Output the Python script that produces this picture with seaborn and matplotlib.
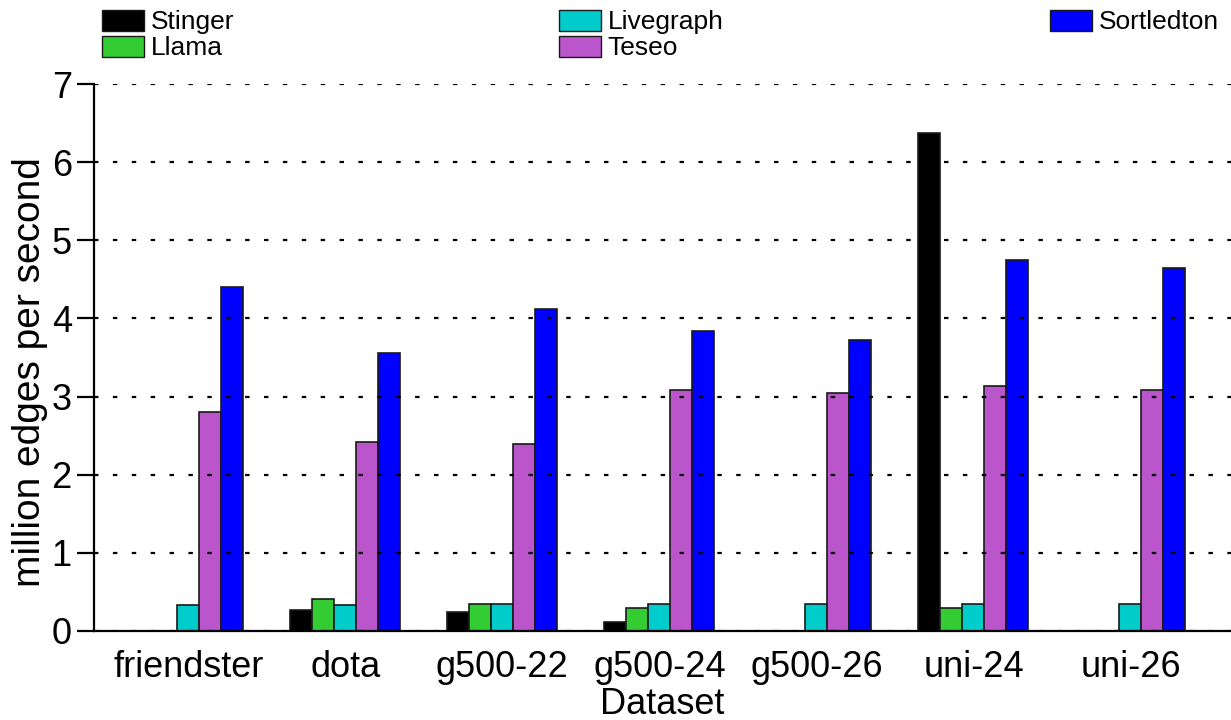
import matplotlib
matplotlib.use("Agg")
import matplotlib.pyplot as plt
import seaborn as sns
import pandas as pd
from matplotlib.patches import Patch

datasets = ["friendster", "dota", "g500-22", "g500-24", "g500-26", "uni-24", "uni-26"]
systems = ["Stinger", "Llama", "Livegraph", "Teseo", "Sortledton"]

stinger = [0.0, 0.27, 0.24, 0.11, 0.0, 6.37, 0.0]
llama = [0.0, 0.41, 0.35, 0.29, 0.0, 0.29, 0.0]
livegraph = [0.33, 0.33, 0.34, 0.34, 0.34, 0.34, 0.34]
teseo = [2.80, 2.42, 2.39, 3.09, 3.05, 3.13, 3.09]
sortledton = [4.40, 3.56, 4.12, 3.84, 3.72, 4.75, 4.65]

colors = ["#000000", "#33cc33", "#00cccc", "#bb55cc", "#0000ff"]

series = [stinger, llama, livegraph, teseo, sortledton]
df = pd.DataFrame(
    [(d, s, v) for s, vals in zip(systems, series) for d, v in zip(datasets, vals)],
    columns=["Dataset", "System", "Throughput"],
)

sns.set_theme(style="white")
plt.rcParams["font.family"] = ["Liberation Sans", "DejaVu Sans"]
plt.rcParams.update({"text.color": "black", "axes.labelcolor": "black",
                     "xtick.color": "black", "ytick.color": "black"})

fig = plt.figure(figsize=(12.31, 7.2), dpi=100)
ax = fig.add_axes([94 / 1231, 1 - 631 / 720, 1 - 94 / 1231, (631 - 84) / 720])

sns.barplot(
    data=df, x="Dataset", y="Throughput", hue="System",
    order=datasets, hue_order=systems, palette=colors,
    width=0.7, edgecolor="#1a1a1a", linewidth=1.2, saturation=1,
    legend=False, ax=ax,
)

ax.set_xlim(-0.6, 6.64)
ax.set_ylim(0, 7)
ax.set_yticks(range(0, 8))
ax.grid(axis="y", color="black", linestyle=(0, (2, 6.5)), linewidth=1.6)
ax.grid(axis="x", visible=False)
ax.set_axisbelow(False)

for side in ["top", "right"]:
    ax.spines[side].set_visible(False)
for side in ["left", "bottom"]:
    ax.spines[side].set_color("black")
    ax.spines[side].set_linewidth(1.6)

ax.tick_params(axis="y", which="major", direction="out", length=12, width=1.6,
               color="black", labelsize=26, pad=4, left=True)
ax.tick_params(axis="x", length=0, labelsize=26, pad=14)
ax.set_ylabel("million edges per second", fontsize=28)
ax.yaxis.set_label_coords(-0.0405, 0.473)
ax.set_xlabel("Dataset", fontsize=26, labelpad=1)

legend_cols = [(["Stinger", "Llama"], 0.0677), (["Livegraph", "Teseo"], 0.439),
               (["Sortledton"], 0.838)]
for names, xpos in legend_cols:
    handles = [Patch(facecolor=colors[systems.index(n)], edgecolor="#1a1a1a",
                     linewidth=1.0, label=n) for n in names]
    fig.legend(handles=handles, loc="upper left", bbox_to_anchor=(xpos, 1.012),
               frameon=False, fontsize=19, handlelength=1.6, handleheight=0.85,
               handletextpad=0.25, labelspacing=0.05, borderpad=0.2)

fig.savefig("out.png", dpi=100)
